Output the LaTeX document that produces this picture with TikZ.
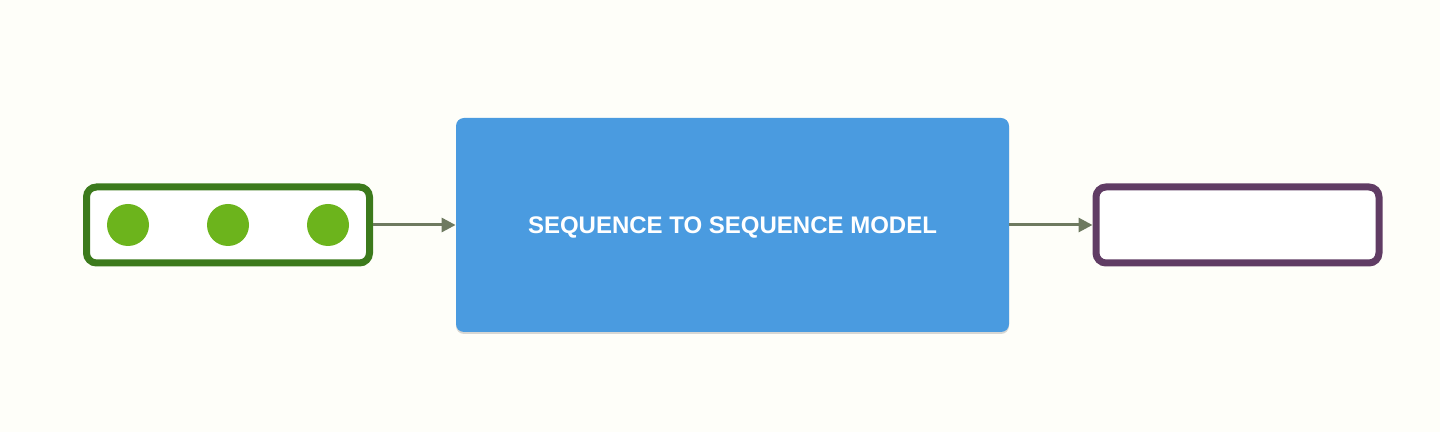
\documentclass[tikz,border=0pt]{standalone}
\usepackage{fontspec}
\usepackage{xcolor}
\usepackage{tikz}
\usetikzlibrary{arrows.meta, positioning, shadows}
\newfontfamily\labelfont{Liberation Sans}
\definecolor{bgpaper}{HTML}{FEFEF9}
\definecolor{ingreen}{HTML}{3C7A1C}
\definecolor{dotgreen}{HTML}{6CB41C}
\definecolor{modelblue}{HTML}{4A9BE0}
\definecolor{outplum}{HTML}{603C64}
\definecolor{edgegray}{HTML}{6E7A60}

\begin{document}
\begin{tikzpicture}[
            x=0.5pt, y=-0.5pt,
            seqbox/.style={draw, line width=3.5pt, rounded corners=5pt, fill=white,
                minimum width=141.5pt, minimum height=38pt, inner sep=0pt},
            dot/.style={circle, fill=dotgreen, minimum size=21pt, inner sep=0pt},
            model/.style={fill=modelblue, rounded corners=4pt, minimum width=276.5pt,
                minimum height=107pt, text=white, text depth=0pt,
                font=\labelfont\bfseries\fontsize{12}{14}\selectfont,
                drop shadow={opacity=0.3, shadow xshift=0pt, shadow yshift=-1pt}},
            edge/.style={-{Triangle[length=7pt, width=7pt]}, line width=1.5pt, draw=edgegray}
        ]

        % background
        \fill[bgpaper] (0,0) rectangle (1440,432);
        \useasboundingbox (0,0) rectangle (1440,432);

        % Nodes
        \node[seqbox, draw=ingreen] (input) at (228,225) {};
        \foreach \i/\x in {1/128, 2/228, 3/328}
            \node[dot] (dot\i) at (\x,225) {};
        \node[model] (seq) at (732.5,225) {SEQUENCE TO SEQUENCE MODEL};
        \node[seqbox, draw=outplum] (output) at (1237.5,225) {};

        % Edges
        \draw[edge] (input.east) -- (seq.west);
        \draw[edge] (seq.east) -- (output.west);

    \end{tikzpicture}
\end{document}
